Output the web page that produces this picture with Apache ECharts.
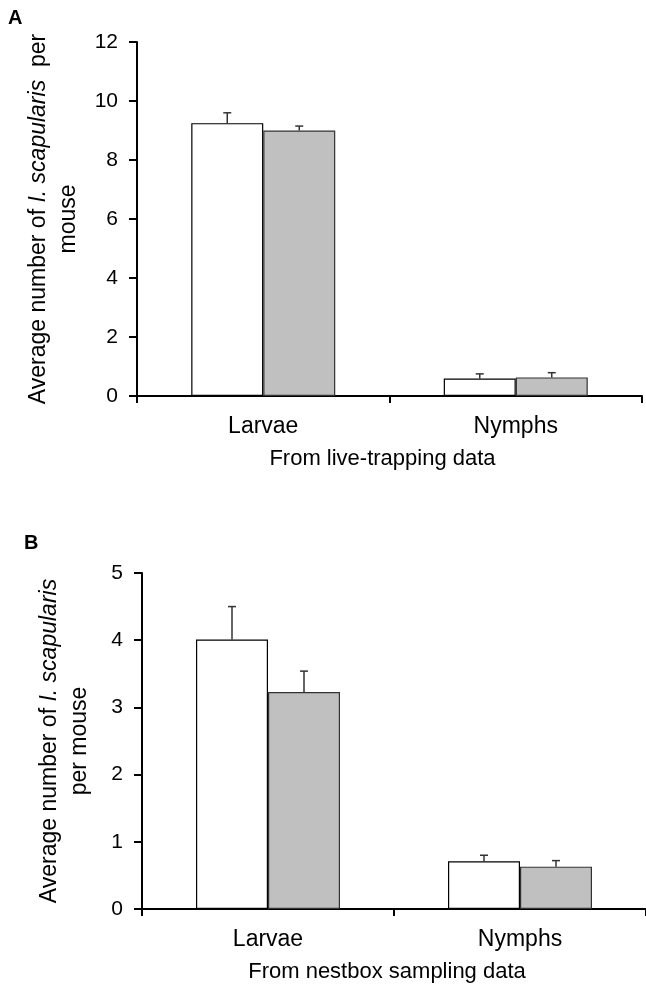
<!DOCTYPE html>
<html>
<head>
<meta charset="utf-8">
<script src="https://cdn.jsdelivr.net/npm/echarts@6/dist/echarts.min.js"></script>
<style>
  html, body { margin: 0; padding: 0; background: #fff; }
  #chart { width: 646px; height: 987px; }
</style>
</head>
<body>
<div id="chart"></div>
<script>
(function() {
  // categories on both panels
  let stages = ["Larvae", "Nymphs"];

  // panel A: live-trapping data (mean, standard error)
  let liveWhite = [9.25, 0.59];
  let liveWhiteErr = [0.35, 0.16];
  let liveGray = [9.0, 0.63];
  let liveGrayErr = [0.15, 0.16];

  // panel B: nestbox sampling data
  let nestWhite = [4.01, 0.71];
  let nestWhiteErr = [0.49, 0.09];
  let nestGray = [3.23, 0.63];
  let nestGrayErr = [0.31, 0.09];

  let yTicksA = { min: 0, max: 12, interval: 2 };
  let yTicksB = { min: 0, max: 5, interval: 1 };

  const FONT = "Liberation Sans, Arial, Helvetica, sans-serif";
  const BAR_W = 72;

  var myChart = echarts.init(document.getElementById("chart"), null, { renderer: "canvas" });

  // error bar drawn above each bar, shifted to the bar's centre
  function errorSeries(idx, means, errs, side) {
    return {
      type: "custom",
      xAxisIndex: idx,
      yAxisIndex: idx,
      silent: true,
      z: 1,
      data: means.map(function(m, i) { return [i, m, m + errs[i]]; }),
      renderItem: function(params, api) {
        let base = api.coord([api.value(0), api.value(1)]);
        let top = api.coord([api.value(0), api.value(2)]);
        let x = base[0] + side * BAR_W / 2;
        let style = { stroke: "#333", lineWidth: 1.5 };
        return {
          type: "group",
          children: [
            { type: "line", shape: { x1: x, y1: base[1], x2: x, y2: top[1] }, style: style },
            { type: "line", shape: { x1: x - 4, y1: top[1], x2: x + 4, y2: top[1] }, style: style },
          ],
        };
      },
    };
  }

  function barSeries(idx, data, color, border) {
    return {
      type: "bar",
      xAxisIndex: idx,
      yAxisIndex: idx,
      data: data,
      barWidth: BAR_W,
      barGap: "0%",
      z: 2,
      itemStyle: { color: color, borderColor: border, borderWidth: 1.2 },
    };
  }

  let axisText = { color: "#000", fontFamily: FONT };

  function xAxis(idx, name) {
    return {
      type: "category",
      gridIndex: idx,
      data: stages,
      name: name,
      nameLocation: "middle",
      nameGap: 52,
      nameTextStyle: Object.assign({ fontSize: 22, padding: [0, 14, 0, 0] }, axisText),
      axisLine: { show: true, lineStyle: { color: "#000", width: 2 } },
      axisTick: { show: true, length: 7, lineStyle: { color: "#000", width: 2 } },
      axisLabel: Object.assign({ fontSize: 23, margin: 19 }, axisText),
      splitLine: { show: false },
    };
  }

  function yAxis(idx, ticks, name, gap) {
    return {
      type: "value",
      gridIndex: idx,
      min: ticks.min,
      max: ticks.max,
      interval: ticks.interval,
      name: name,
      nameLocation: "middle",
      nameRotate: 90,
      nameGap: gap,
      nameTextStyle: Object.assign({
        fontSize: 23,
        lineHeight: 30,
        align: "center",
        rich: {
          i: { fontSize: 23, fontStyle: "italic", fontFamily: FONT, color: "#000", lineHeight: 30 },
        },
      }, axisText),
      axisLine: { show: true, lineStyle: { color: "#000", width: 2 } },
      axisTick: { show: true, length: 8, lineStyle: { color: "#000", width: 2 } },
      axisLabel: Object.assign({ fontSize: 21, margin: 19 }, axisText),
      splitLine: { show: false },
    };
  }

  let options = {
    animation: false,
    backgroundColor: "#fff",
    textStyle: { fontFamily: FONT },
    graphic: [
      { type: "text", left: 8, top: 8, style: { text: "A", font: "bold 20px " + FONT, fill: "#000" } },
      { type: "text", left: 24, top: 533, style: { text: "B", font: "bold 20px " + FONT, fill: "#000" } },
    ],
    grid: [
      { left: 137, top: 42, width: 505, height: 354 },
      { left: 142, top: 573, width: 505, height: 336 },
    ],
    xAxis: [
      xAxis(0, "From live-trapping data"),
      xAxis(1, "From nestbox sampling data"),
    ],
    yAxis: [
      yAxis(0, yTicksA, "Average number of {i|I. scapularis}  per\nmouse", 44),
      yAxis(1, yTicksB, "Average number of {i|I. scapularis}\nper mouse", 47),
    ],
    series: [
      barSeries(0, liveWhite, "#ffffff", "#000"),
      barSeries(0, liveGray, "#c0c0c0", "#333"),
      errorSeries(0, liveWhite, liveWhiteErr, -1),
      errorSeries(0, liveGray, liveGrayErr, 1),
      barSeries(1, nestWhite, "#ffffff", "#000"),
      barSeries(1, nestGray, "#c0c0c0", "#333"),
      errorSeries(1, nestWhite, nestWhiteErr, -1),
      errorSeries(1, nestGray, nestGrayErr, 1),
    ],
  };
  myChart.setOption(options);
  window.addEventListener("resize", function() {
    myChart.resize();
  });
})();
</script>
</body>
</html>
